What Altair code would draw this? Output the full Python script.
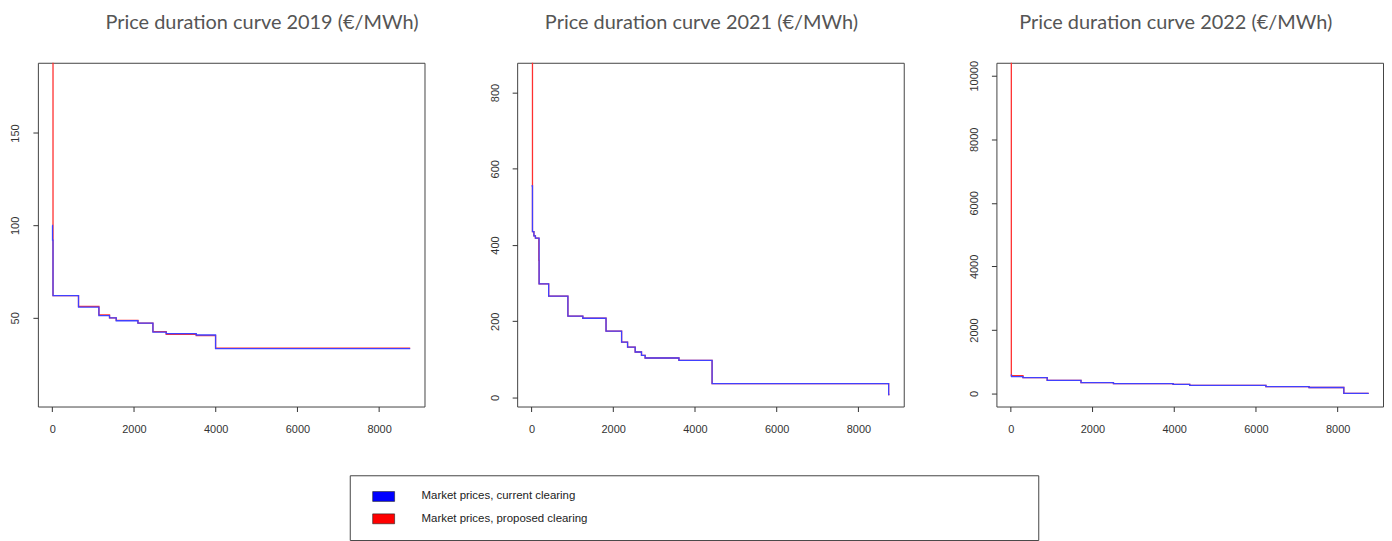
import altair as alt
import pandas as pd

series_names = ["Market prices, current clearing", "Market prices, proposed clearing"]
series_colors = ["#4040ff", "#ff3030"]
legend_colors = ["#0000ff", "#ff0000"]

x_ticks = [0, 2000, 4000, 6000, 8000]
x_domain = [-350, 9110]

# ---- 2019 ----
h19_cur = [0, 8, 20, 644, 1143, 1403, 1567, 2098, 2465, 2790, 3525, 3998, 8760]
p19_cur = [100, 92, 62, 55.8, 51.2, 50.0, 48.4, 47.1, 42.3, 41.4, 40.7, 33.3, 33.3]
h19_pro = [0, 20, 644, 1143, 1403, 1567, 2098, 2465, 2790, 3525, 3998, 8760]
p19_pro = [300, 62, 56.2, 51.6, 50.0, 48.6, 47.1, 42.5, 41.1, 40.4, 33.6, 33.6]
y19_domain = [2, 188]
y19_ticks = [50, 100, 150]

# ---- 2021 ----
h21_cur = [0, 25, 60, 97, 187, 421, 892, 1257, 1825, 2206, 2352, 2538, 2693, 2782, 3609, 4420, 8740, 8760]
p21_cur = [555, 435, 424, 418, 298, 266, 213.5, 208, 174, 145.5, 132.5, 119.5, 110.7, 103.7, 97.6, 36.6, 8, 8]
h21_pro = [0, 25, 60, 97, 180, 187, 421, 892, 1257, 1825, 2206, 2352, 2538, 2693, 2782, 3609, 4420, 8740, 8760]
p21_pro = [1500, 435, 424, 418, 360, 298, 266, 213.5, 208, 174, 145.5, 132.5, 119.5, 110.7, 103.7, 97.6, 36.6, 8, 8]
y21_domain = [-23.5, 878]
y21_ticks = [0, 200, 400, 600, 800]

# ---- 2022 ----
h22_cur = [0, 20, 300, 893, 1720, 2514, 3974, 4380, 6245, 7300, 8151, 8760]
p22_cur = [580, 530, 500, 417, 345, 313, 290, 260, 215, 190, 8, 8]
h22_pro = [0, 15, 300, 893, 1720, 2514, 3974, 4380, 6245, 7300, 8151, 8760]
p22_pro = [15000, 560, 500, 417, 345, 313, 290, 260, 215, 190, 8, 8]
y22_domain = [-408, 10408]
y22_ticks = [0, 2000, 4000, 6000, 8000, 10000]

titles = ["Price duration curve 2019 (€/MWh)",
          "Price duration curve 2021 (€/MWh)",
          "Price duration curve 2022 (€/MWh)"]
title_dx = [31, -9, -14]
title_dy = [0, 0, 2]

TICK_FONT = "Liberation Sans"
LEGEND_FONT = "Liberation Sans"
TITLE_FONT = "Lato"


def step_df(hours, prices, name):
    return pd.DataFrame({"hour": hours, "price": prices, "series": name})


def panel(h_cur, p_cur, h_pro, p_pro, ydom, yticks, title, dx, dy):
    xenc = alt.X("hour:Q",
                 scale=alt.Scale(domain=x_domain, nice=False, zero=False),
                 axis=alt.Axis(values=x_ticks, format="d", title=None, domain=False, grid=False,
                               tickSize=5, tickColor="#333", labelPadding=12,
                               labelFont=TICK_FONT, labelFontSize=11, labelColor="#333",
                               labelFlush=False, minExtent=30, maxExtent=30))
    yenc = alt.Y("price:Q",
                 scale=alt.Scale(domain=ydom, nice=False, zero=False),
                 axis=alt.Axis(values=yticks, format="d", title=None, domain=False, grid=False,
                               tickSize=5, tickColor="#333", labelPadding=12,
                               labelAngle=-90, labelAlign="center", labelBaseline="bottom",
                               labelFont=TICK_FONT, labelFontSize=11, labelColor="#333",
                               labelFlush=False, minExtent=29, maxExtent=29))
    cenc = alt.Color("series:N", scale=alt.Scale(domain=series_names, range=series_colors), legend=None)
    red = alt.Chart(step_df(h_pro, p_pro, series_names[1])).mark_line(
        interpolate="step-after", clip=True, strokeWidth=1.3).encode(x=xenc, y=yenc, color=cenc)
    blue = alt.Chart(step_df(h_cur, p_cur, series_names[0])).mark_line(
        interpolate="step-after", clip=True, strokeWidth=1.3).encode(x=xenc, y=yenc, color=cenc)
    return alt.layer(red, blue).properties(
        width=388, height=345,
        title=alt.TitleParams(title, font=TITLE_FONT, fontSize=20, fontWeight="normal",
                              color="#555555", anchor="middle", frame="group",
                              dx=dx, dy=dy, offset=30))


p1 = panel(h19_cur, p19_cur, h19_pro, p19_pro, y19_domain, y19_ticks, titles[0], title_dx[0], title_dy[0])
p2 = panel(h21_cur, p21_cur, h21_pro, p21_pro, y21_domain, y21_ticks, titles[1], title_dx[1], title_dy[1])
p3 = panel(h22_cur, p22_cur, h22_pro, p22_pro, y22_domain, y22_ticks, titles[2], title_dx[2], title_dy[2])

row = alt.hconcat(p1, p2, p3, spacing=62).resolve_scale(x="independent", y="independent")

# legend box
leg_df = pd.DataFrame({"series": series_names})
swatch_shape = "M-1,-0.45L1,-0.45L1,0.45L-1,0.45Z"
leg_y = alt.Y("series:N", sort=series_names, axis=None,
              scale=alt.Scale(type="point", padding=0.95))
leg_sw = alt.Chart(leg_df).mark_point(shape=swatch_shape, filled=True, size=484,
                                      stroke="#222", strokeWidth=0.6, opacity=1).encode(
    x=alt.value(34), y=leg_y,
    color=alt.Color("series:N", scale=alt.Scale(domain=series_names, range=legend_colors), legend=None))
leg_tx = alt.Chart(leg_df).mark_text(align="left", baseline="middle", font=LEGEND_FONT,
                                     fontSize=11.5, color="#222").encode(
    x=alt.value(72), y=leg_y, text="series:N")
legend = alt.layer(leg_sw, leg_tx).properties(width=691, height=65)

spacer = alt.Chart(pd.DataFrame({"series": series_names[:1]})).mark_point(opacity=0).encode(
    x=alt.value(0), y=alt.value(0)
).properties(width=311, height=65, view=alt.ViewBackground(stroke="transparent"))

legend_row = alt.hconcat(spacer, legend, spacing=0)

chart = alt.vconcat(row, legend_row, spacing=34).resolve_scale(
    color="independent", x="independent", y="independent"
).properties(
    padding={"left": 0, "top": 3, "right": 0, "bottom": 0}
).configure(background="white").configure_view(stroke="#444", strokeWidth=1)

chart.save("out.html", embed_options={"renderer": "svg", "actions": False})
